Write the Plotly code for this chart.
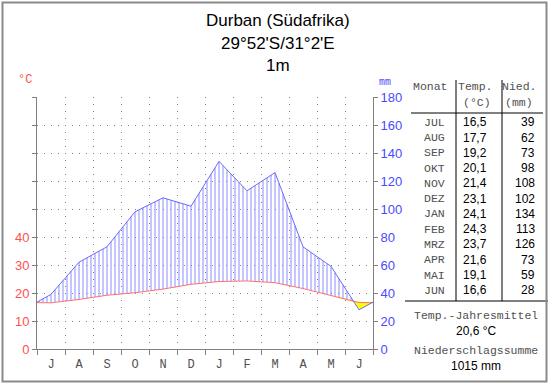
import numpy as np
import plotly.graph_objects as go

# ---------------- data ----------------
months_axis = ["J", "A", "S", "O", "N", "D", "J", "F", "M", "A", "M", "J"]
months_table = ["JUL", "AUG", "SEP", "OKT", "NOV", "DEZ", "JAN", "FEB", "MRZ", "APR", "MAI", "JUN"]
temp_c = [16.5, 17.7, 19.2, 20.1, 21.4, 23.1, 24.1, 24.3, 23.7, 21.6, 19.1, 16.6]
precip_mm = [39, 62, 73, 98, 108, 102, 134, 113, 126, 73, 59, 28]
temp_labels = ["16,5", "17,7", "19,2", "20,1", "21,4", "23,1", "24,1", "24,3", "23,7", "21,6", "19,1", "16,6"]
mean_temp_label = "20,6 °C"
total_precip_label = "1015 mm"
title_lines = ["Durban (Südafrika)", "29°52'S/31°2'E", "1m"]
mm_ticks = [0, 20, 40, 60, 80, 100, 120, 140, 160, 180]
c_ticks = ["0", "10", "20", "30", "40", "", "", "", "", ""]

# ---------------- geometry helpers ----------------
W, H = 550, 384
ML, MR, MT, MB = 37, 177, 97, 35
PW, PH = W - ML - MR, H - MT - MB


def px(x):
    return (x - ML) / PW


def py(y):
    return (H - MB - y) / PH


# curves (temperature scaled 10 °C = 20 mm), wrapped at the edges
t2 = np.array(temp_c) * 2.0
p = np.array(precip_mm, dtype=float)
xm = np.arange(12) + 0.5
edge_t = (t2[0] + t2[-1]) / 2
edge_p = (p[0] + p[-1]) / 2
xc = np.concatenate([[0.0], xm, [12.0]])
tc = np.concatenate([[edge_t], t2, [edge_t]])
pc = np.concatenate([[edge_p], p, [edge_p]])

fig = go.Figure()

# hatching for humid period
hx, hy = [], []
for k in range(84):
    x = (k + 0.5) / 7
    tv = np.interp(x, xc, tc)
    pv = np.interp(x, xc, pc)
    if pv - tv > 0.3:
        hx += [x, x, None]
        hy += [tv, pv, None]
fig.add_trace(go.Scatter(x=hx, y=hy, mode="lines", line=dict(color="#8c8cff", width=1),
                         hoverinfo="skip", showlegend=False))

# arid period (yellow)
xd = np.linspace(0, 12, 2401)
td = np.interp(xd, xc, tc)
pd_ = np.interp(xd, xc, pc)
fig.add_trace(go.Scatter(x=xd, y=td, mode="lines", line=dict(width=0, color="rgba(0,0,0,0)"),
                         hoverinfo="skip", showlegend=False))
fig.add_trace(go.Scatter(x=xd, y=np.minimum(pd_, td), mode="lines", fill="tonexty",
                         fillcolor="#ffff00", line=dict(width=0, color="rgba(0,0,0,0)"),
                         hoverinfo="skip", showlegend=False))

# temperature and precipitation lines
fig.add_trace(go.Scatter(x=xc, y=tc, mode="lines", line=dict(color="#ff7070", width=1),
                         hoverinfo="skip", showlegend=False))
fig.add_trace(go.Scatter(x=xc, y=pc, mode="lines", line=dict(color="#6a6aff", width=1),
                         hoverinfo="skip", showlegend=False))
# invisible trace for right axis
fig.add_trace(go.Scatter(x=[0], y=[0], yaxis="y2", mode="markers", marker=dict(opacity=0),
                         hoverinfo="skip", showlegend=False))

grid_col = "#808080"
fig.update_layout(
    width=W, height=H, autosize=False,
    margin=dict(l=ML, r=MR, t=MT, b=MB),
    paper_bgcolor="white", plot_bgcolor="white",
    xaxis=dict(range=[0, 12], tickvals=list(xm), ticktext=months_axis, ticks="",
               showline=True, linecolor=grid_col, linewidth=1, showgrid=False, zeroline=False,
               tickfont=dict(family="Liberation Mono", size=12, color="#505050"),
               ticklabelstandoff=4,
               minor=dict(tick0=0, dtick=1, ticks="outside", ticklen=5, tickcolor=grid_col,
                          showgrid=True, gridcolor=grid_col, griddash="1px,6px", gridwidth=1)),
    yaxis=dict(range=[0, 180], tickvals=mm_ticks, ticktext=c_ticks, ticks="outside", ticklen=4,
               tickcolor=grid_col, showline=True, linecolor=grid_col, zeroline=False,
               showgrid=True, gridcolor=grid_col, griddash="1px,6px",
               tickfont=dict(family="Liberation Sans", size=13, color="#ff5050")),
    yaxis2=dict(range=[0, 180], tickvals=mm_ticks, overlaying="y", side="right", ticks="outside",
                ticklen=4, tickcolor=grid_col, showline=True, linecolor=grid_col, showgrid=False,
                zeroline=False, tickfont=dict(family="Liberation Sans", size=13, color="#4a4aff")),
)

ann = []


def add_text(x, y, text, size=11.5, family="Liberation Mono", color="#505050", xanchor="center"):
    ann.append(dict(x=px(x), y=py(y), xref="paper", yref="paper", text=text, showarrow=False,
                    xanchor=xanchor, yanchor="middle",
                    font=dict(family=family, size=size, color=color)))


for i, t in enumerate(title_lines):
    add_text(278, [20, 43, 65][i], t, size=17, family="Liberation Sans", color="black")
add_text(25, 80, "°C", size=12, color="#ff5050")
add_text(385, 82, "mm", size=10, color="#4a4aff")

# table
add_text(430, 87, "Monat")
add_text(475, 87, "Temp.")
add_text(477, 102, "(°C)")
add_text(519, 87, "Nied.")
add_text(519, 102, "(mm)")
for i in range(12):
    y = 122.3 + i * 15.27
    add_text(447, y, months_table[i], xanchor="right")
    add_text(489, y, temp_labels[i], size=12, family="Liberation Sans", color="black", xanchor="right")
    add_text(537, y, str(precip_mm[i]), size=12, family="Liberation Sans", color="black", xanchor="right")
add_text(476, 315, "Temp.-Jahresmittel")
add_text(476, 331, mean_temp_label, size=12, family="Liberation Sans", color="black")
add_text(476, 350, "Niederschlagssumme")
add_text(476, 366, total_precip_label, size=12, family="Liberation Sans", color="black")
fig.update_layout(annotations=ann)

shapes = []


def line(x0, y0, x1, y1, color="black", width=1):
    shapes.append(dict(type="line", xref="paper", yref="paper", x0=px(x0), y0=py(y0),
                       x1=px(x1), y1=py(y1), line=dict(color=color, width=width)))


line(456, 80, 456, 301)
line(502, 80, 502, 301)
line(411, 113, 543, 113)
line(405, 301, 548, 301)
shapes.append(dict(type="rect", xref="paper", yref="paper", x0=px(2.5), y0=py(2.5),
                   x1=px(546.5), y1=py(381.5), line=dict(color="#8a8a8a", width=2)))
fig.update_layout(shapes=shapes)

fig.write_html("out.html", config={"displayModeBar": False},
               post_script="document.body.style.margin='0';document.body.style.padding='0';")
